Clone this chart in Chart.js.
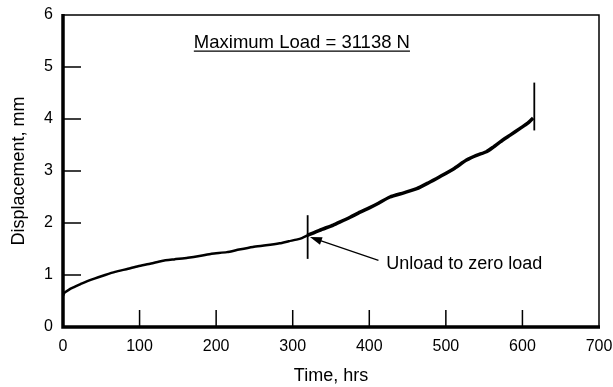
<!DOCTYPE html>
<html>
<head>
<meta charset="utf-8">
<script src="https://cdn.jsdelivr.net/npm/chart.js@4/dist/chart.umd.min.js"></script>
<style>
  html, body { margin: 0; padding: 0; background: #fff; }
  canvas { display: block; }
</style>
</head>
<body>
<canvas id="creepChart" width="613" height="387"></canvas>
<script>
// first loading, up to the unload at ~320 hrs
const timeLoad = [0, 2, 8, 15, 25, 41, 55, 68, 85, 98, 115, 129, 145, 163, 180, 194, 214, 230, 248, 265, 283, 295, 305, 312, 319];
const dispLoad = [0.60, 0.66, 0.72, 0.77, 0.84, 0.93, 1.00, 1.06, 1.12, 1.17, 1.22, 1.27, 1.30, 1.33, 1.37, 1.41, 1.44, 1.49, 1.54, 1.57, 1.61, 1.65, 1.68, 1.71, 1.76];
// reloading after zero load
const timeReload = [319, 335, 353, 362, 375, 388, 400, 412, 427, 445, 462, 477, 492, 510, 527, 540, 553, 562, 571, 584, 597, 607, 614];
const dispReload = [1.76, 1.86, 1.96, 2.02, 2.11, 2.21, 2.29, 2.38, 2.50, 2.58, 2.66, 2.77, 2.89, 3.04, 3.21, 3.30, 3.37, 3.46, 3.56, 3.69, 3.82, 3.92, 4.02];
// vertical event markers
const markerTimes = [319.5, 615.5];
const markerLow = [1.31, 3.78];
const markerHigh = [2.15, 4.70];
// axis ticks
const xTicks = [0, 100, 200, 300, 400, 500, 600, 700];
const yTicks = [0, 1, 2, 3, 4, 5, 6];

const FONT = '"Liberation Sans", Arial, Helvetica, sans-serif';

function toPoints(xs, ys) {
    return xs.map((x, i) => ({ x: x, y: ys[i] }));
}

const datasets = [
    { data: toPoints(timeLoad, dispLoad), borderColor: '#000', borderWidth: 2.5 },
    { data: toPoints(timeReload, dispReload), borderColor: '#000', borderWidth: 3.5 }
];
markerTimes.forEach((t, i) => {
    datasets.push({ data: [{ x: t, y: markerLow[i] }, { x: t, y: markerHigh[i] }], borderColor: '#000', borderWidth: 1.8 });
});

// frame with inward ticks, plus the text notes and arrow
const framePlugin = {
    id: 'frame',
    afterDatasetsDraw(chart) {
        const ctx = chart.ctx;
        const a = chart.chartArea;
        const xs = chart.scales.x, ys = chart.scales.y;
        ctx.save();
        ctx.strokeStyle = '#000';
        ctx.lineCap = 'butt';

        // top and right thin
        ctx.lineWidth = 1.5;
        ctx.beginPath();
        ctx.moveTo(a.left, a.top); ctx.lineTo(a.right, a.top); ctx.lineTo(a.right, a.bottom);
        ctx.stroke();
        // left and bottom heavy
        ctx.lineWidth = 3.5;
        ctx.beginPath();
        ctx.moveTo(a.left, a.top - 1); ctx.lineTo(a.left, a.bottom); ctx.lineTo(a.right + 1, a.bottom);
        ctx.stroke();

        // inward ticks
        ctx.lineWidth = 1.5;
        ctx.beginPath();
        xTicks.slice(1, -1).forEach(v => {
            const px = xs.getPixelForValue(v);
            ctx.moveTo(px, a.bottom); ctx.lineTo(px, a.bottom - 17);
        });
        yTicks.slice(1, -1).forEach(v => {
            const py = ys.getPixelForValue(v);
            ctx.moveTo(a.left, py); ctx.lineTo(a.left + 18, py);
        });
        ctx.stroke();

        // title note
        ctx.fillStyle = '#000';
        ctx.font = '18.5px ' + FONT;
        ctx.textAlign = 'center';
        ctx.textBaseline = 'middle';
        const title = 'Maximum Load = 31138 N';
        const tx = xs.getPixelForValue(312), ty = ys.getPixelForValue(5.46);
        ctx.fillText(title, tx, ty);
        const w = ctx.measureText(title).width;
        ctx.lineWidth = 1.2;
        ctx.beginPath();
        ctx.moveTo(tx - w / 2, ty + 8); ctx.lineTo(tx + w / 2, ty + 8);
        ctx.stroke();

        // unload note
        ctx.font = '18px ' + FONT;
        ctx.textAlign = 'left';
        ctx.fillText('Unload to zero load', xs.getPixelForValue(422), ys.getPixelForValue(1.22));

        // arrow
        const x1 = xs.getPixelForValue(412), y1 = ys.getPixelForValue(1.28);
        const x2 = xs.getPixelForValue(322.5), y2 = ys.getPixelForValue(1.73);
        const ang = Math.atan2(y2 - y1, x2 - x1);
        ctx.lineWidth = 1.2;
        ctx.beginPath();
        ctx.moveTo(x1, y1); ctx.lineTo(x2 - 8 * Math.cos(ang), y2 - 8 * Math.sin(ang));
        ctx.stroke();
        ctx.beginPath();
        ctx.moveTo(x2, y2);
        ctx.lineTo(x2 - 12 * Math.cos(ang) + 4 * Math.sin(ang), y2 - 12 * Math.sin(ang) - 4 * Math.cos(ang));
        ctx.lineTo(x2 - 12 * Math.cos(ang) - 4 * Math.sin(ang), y2 - 12 * Math.sin(ang) + 4 * Math.cos(ang));
        ctx.closePath();
        ctx.fill();
        ctx.restore();
    }
};

new Chart(document.getElementById('creepChart'), {
    type: 'line',
    data: { datasets: datasets },
    options: {
        responsive: false,
        animation: false,
        devicePixelRatio: 1,
        layout: { padding: { top: 15, right: 14, left: 0, bottom: 0 } },
        elements: { point: { radius: 0 }, line: { tension: 0.2 } },
        plugins: { legend: { display: false }, tooltip: { enabled: false } },
        scales: {
            x: {
                type: 'linear',
                min: 0,
                max: 700,
                afterFit: s => { s.height = 60; s.paddingLeft = 0; s.paddingRight = 0; },
                afterBuildTicks: s => { s.ticks = xTicks.map(v => ({ value: v })); },
                grid: { display: false, drawTicks: false },
                border: { display: false },
                ticks: { color: '#000', font: { family: FONT, size: 16 }, padding: 10, maxRotation: 0 },
                title: { display: true, text: 'Time, hrs', color: '#000', font: { family: FONT, size: 18 }, padding: { top: 0, bottom: 0 } }
            },
            y: {
                min: 0,
                max: 6,
                afterFit: s => { s.width = 63; s.paddingTop = 0; s.paddingBottom = 0; },
                afterBuildTicks: s => { s.ticks = yTicks.map(v => ({ value: v })); },
                grid: { display: false, drawTicks: false },
                border: { display: false },
                ticks: { color: '#000', font: { family: FONT, size: 16 }, padding: 10 },
                title: { display: true, text: 'Displacement, mm', color: '#000', font: { family: FONT, size: 18 }, padding: { top: 8, bottom: 0 } }
            }
        }
    },
    plugins: [framePlugin]
});
</script>
</body>
</html>
